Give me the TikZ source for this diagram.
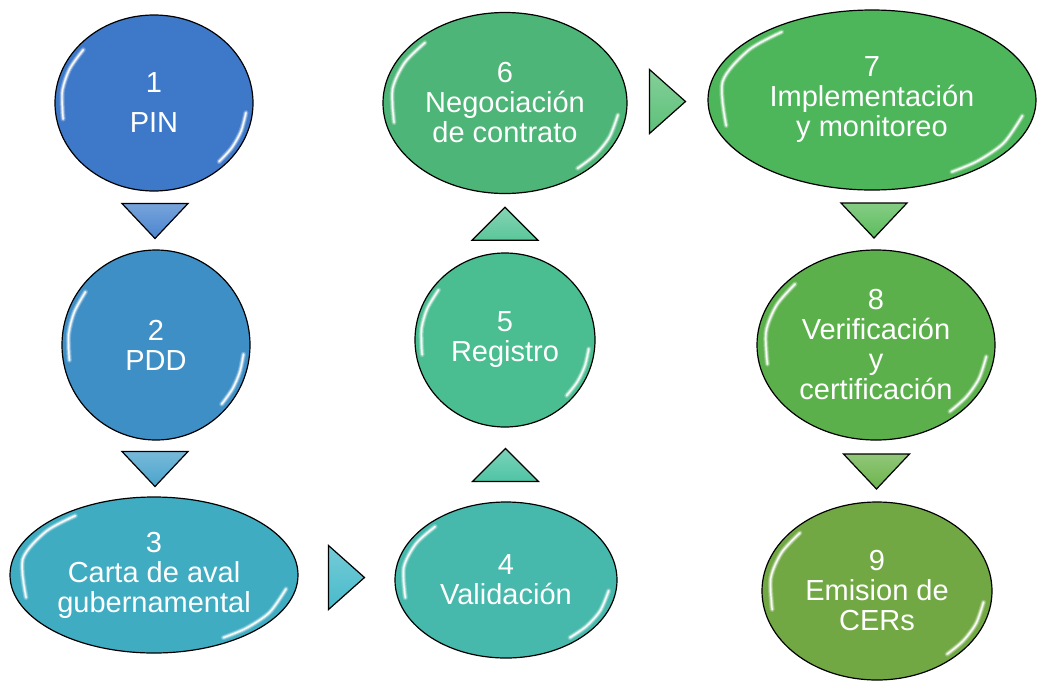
\documentclass[tikz,border=0pt]{standalone}
\usepackage{fontspec}
\setmainfont{Liberation Sans}
\usetikzlibrary{shapes.geometric,calc}

\definecolor{c1}{RGB}{62,120,200}
\definecolor{c2}{RGB}{62,143,198}
\definecolor{c3}{RGB}{64,172,194}
\definecolor{c4}{RGB}{70,185,172}
\definecolor{c5}{RGB}{74,189,145}
\definecolor{c6}{RGB}{77,181,119}
\definecolor{c7}{RGB}{77,181,90}
\definecolor{c8}{RGB}{92,176,75}
\definecolor{c9}{RGB}{114,168,67}
\definecolor{t1}{RGB}{74,133,207}
\definecolor{t2}{RGB}{74,163,204}
\definecolor{t3}{RGB}{72,186,202}
\definecolor{t4}{RGB}{79,196,164}
\definecolor{t5}{RGB}{91,198,154}
\definecolor{t6}{RGB}{92,192,120}
\definecolor{t7}{RGB}{92,188,92}
\definecolor{t8}{RGB}{108,180,76}

% glossy rim for the ellipses
\colorlet{midc}{c1}
\colorlet{rimc}{c1}
\pgfdeclareradialshading[midc,rimc]{rim}{\pgfpoint{0bp}{0bp}}{color(0bp)=(midc); color(40bp)=(midc); color(47bp)=(rimc); color(50bp)=(rimc)}

\begin{document}
\begin{tikzpicture}[x=1pt, y=-1pt,
  stepnode/.style={ellipse, draw=black, line width=1.2pt, inner sep=0pt,
    text=white, align=center, font=\fontsize{29}{30}\selectfont,
    /utils/exec={\colorlet{midc}{#1}\colorlet{rimc}{#1!72!black}}, shading=rim},
  arrowtri/.style={draw=black, line width=1.2pt, top color=#1!75!white, bottom color=#1},
  gloss/.style={white, line cap=round, line join=round, line width=#1}]
  \useasboundingbox (0,0) rectangle (1037,681);

  \node[stepnode=c1, minimum width=198pt, minimum height=176pt] (e1) at (154,103) {1\\[10pt]PIN};
  \node[stepnode=c2, minimum width=188pt, minimum height=190pt] (e2) at (156,345) {2\\PDD};
  \node[stepnode=c3, minimum width=288pt, minimum height=156pt] (e3) at (154,575) {3\\Carta de aval\\gubernamental};
  \node[stepnode=c4, minimum width=222pt, minimum height=156pt] (e4) at (506,580) {4\\Validación};
  \node[stepnode=c5, minimum width=180pt, minimum height=174pt] (e5) at (505,340) {5\\Registro};
  \node[stepnode=c6, minimum width=244pt, minimum height=181pt] (e6) at (505,103) {6\\Negociación\\de contrato};
  \node[stepnode=c7, minimum width=328pt, minimum height=180pt] (e7) at (872,100) {7\\Implementación\\y monitoreo};
  \node[stepnode=c8, minimum width=238pt, minimum height=190pt] (e8) at (876,345) {8\\Verificación\\y\\certificación};
  \node[stepnode=c9, minimum width=230pt, minimum height=178pt] (e9) at (877,591) {9\\Emision de\\CERs};

  % highlights
  \foreach \n in {e1,e2,e3,e4,e5,e6,e7,e8,e9} {
    \foreach \w/\o in {5pt/.25, 3pt/.45, 1.4pt/.9} {
      \draw[gloss=\w, opacity=\o] plot[smooth] coordinates {($(\n.center)!.93!(\n.143)$) ($(\n.center)!.93!(\n.158)$) ($(\n.center)!.93!(\n.173)$) ($(\n.center)!.93!(\n.190)$)};
      \draw[gloss=\w, opacity=\o] plot[smooth] coordinates {($(\n.center)!.93!(\n.-6)$) ($(\n.center)!.93!(\n.-18)$) ($(\n.center)!.93!(\n.-30)$) ($(\n.center)!.93!(\n.-42)$)};
    }
  }

  % triangles between the steps
  \foreach \a/\b/\c in {e1/e2/t1, e2/e3/t2, e7/e8/t7, e8/e9/t8}
    \path[arrowtri=\c, shift={($(\a.south)!.5!(\b.north)$)}] (-33,-17) -- (33,-17) -- (0,18) -- cycle;
  \foreach \a/\b/\c in {e4/e5/t4, e5/e6/t5}
    \path[arrowtri=\c, shift={($(\a.north)!.5!(\b.south)$)}] (-33,17) -- (33,17) -- (0,-16) -- cycle;
  \foreach \a/\b/\c in {e3/e4/t3, e6/e7/t6}
    \path[arrowtri=\c, shift={($(\a.east)!.5!(\b.west)$)}] (-18,-32) -- (-18,32) -- (18,0) -- cycle;
\end{tikzpicture}
\end{document}
